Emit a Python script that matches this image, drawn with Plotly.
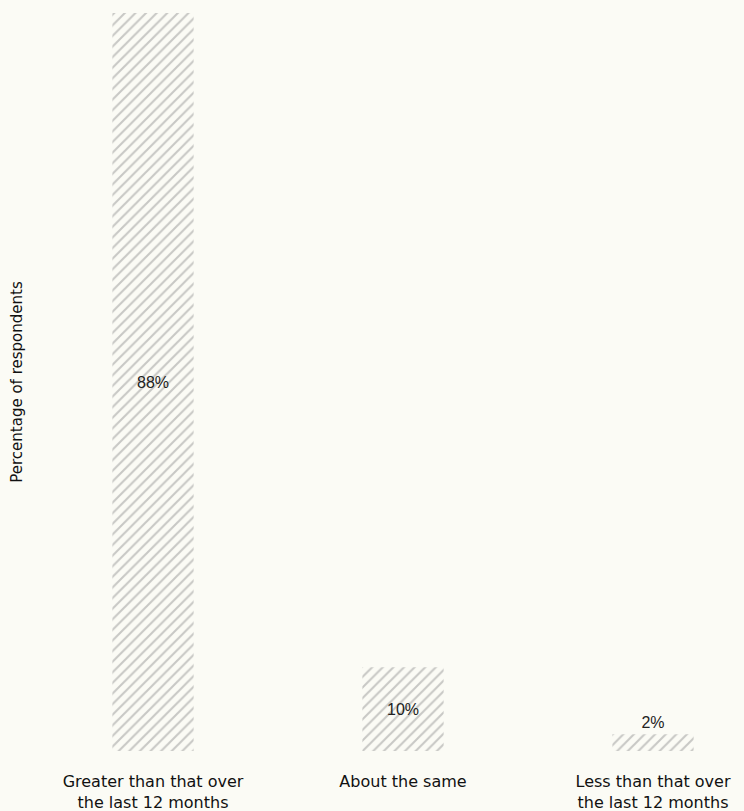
import plotly.graph_objects as go

categories = ["Greater than that over<br>the last 12 months", "About the same", "Less than that over<br>the last 12 months"]
values = [88, 10, 2]
labels = ["88%", "10%", "2%"]

x_pos = list(range(len(categories)))
bg = "#fbfbf5"

fig = go.Figure()
fig.add_trace(go.Bar(
    x=x_pos,
    y=values,
    width=0.325,
    text=labels,
    textposition="auto",
    insidetextanchor="middle",
    textfont=dict(family="Liberation Sans, Arial", size=16, color="#222222"),
    marker=dict(
        color="rgba(0,0,0,0)",
        line=dict(width=0),
        pattern=dict(shape="/", fgcolor="#959595", bgcolor="rgba(0,0,0,0)", size=7.5, solidity=0.28, fillmode="overlay"),
    ),
    cliponaxis=False,
    hoverinfo="skip",
))

fig.update_layout(
    width=744,
    height=811,
    margin=dict(l=40, r=0, t=13, b=60, autoexpand=False),
    paper_bgcolor=bg,
    plot_bgcolor=bg,
    showlegend=False,
    uniformtext=dict(mode=False),
    xaxis=dict(
        range=[(40 - 153) / 250, (744 - 153) / 250],
        tickmode="array",
        tickvals=x_pos,
        ticktext=categories,
        showgrid=False,
        zeroline=False,
        showline=False,
        ticks="",
        automargin=False,
        ticklabelstandoff=19,
        tickfont=dict(family="DejaVu Sans", size=16, color="#111111"),
    ),
    yaxis=dict(
        range=[0, 88],
        showticklabels=False,
        showgrid=False,
        zeroline=False,
        showline=False,
        ticks="",
        automargin=False,
        title=dict(text="Percentage of respondents", standoff=12,
                   font=dict(family="DejaVu Sans", size=15, color="#111111")),
    ),
)

fig.write_html("out.html")
